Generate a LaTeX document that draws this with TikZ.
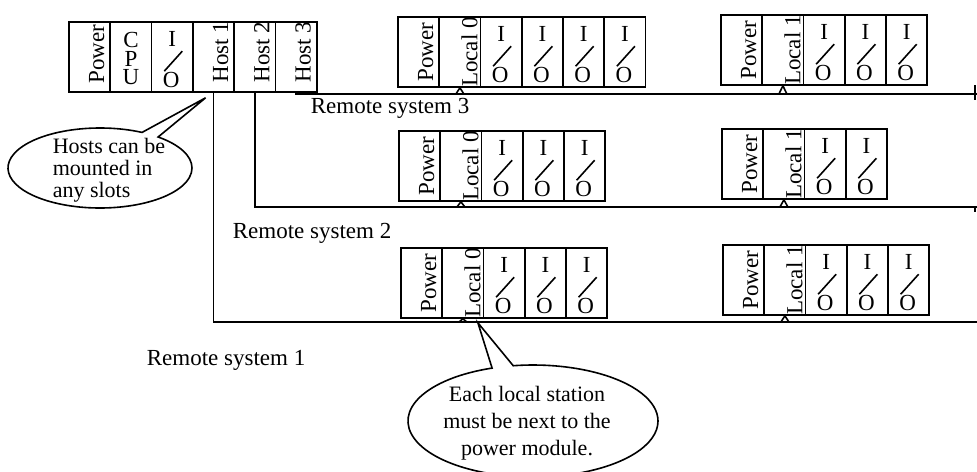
\documentclass[tikz,border=0pt]{standalone}
\usepackage{fontspec}
\setmainfont{Liberation Serif}
\usetikzlibrary{shapes.callouts}

% I/O marking inside a slot node
\newcommand\iomark[1]{%
  \node[anchor=base] (#1-i) at ([yshift=-12.5pt]#1.north) {I};
  \node[anchor=base] (#1-o) at ([xshift=-0.5pt,yshift=2.5pt]#1.south) {O};
  \draw ([xshift=-4pt,yshift=-25pt]#1.north) -- ([xshift=5pt,yshift=-15pt]#1.north);}

\begin{document}
\begin{tikzpicture}[x=0.5pt,y=-0.5pt,line width=0.8pt,
  font=\fontsize{11.5}{13}\selectfont,
  slot/.style={draw,inner sep=0pt,minimum width=20.625pt,minimum height=35pt},
  vtext/.style={rotate=90,anchor=base},
  note/.style={draw,ellipse callout,fill=white,inner sep=0pt}]
\useasboundingbox (0,0) rectangle (977,471);
\clip (0,0) rectangle (977,471);
% host system
\foreach \n [count=\i from 0] in {pw,cpu,io,h1,h2,h3}
  \node[slot] (\n) at (89.6+41.33*\i,57) {};
\node[vtext] (pw-t) at ([xshift=-3.5pt,yshift=1.5pt]pw.east) {Power};
\node[anchor=north,align=center,inner sep=0pt,font=\fontsize{11.5}{9.25}\selectfont]
  (cpu-t) at ([yshift=-5.2pt]cpu.north) {C\\P\\U};
\iomark{io}
\foreach \i in {1,2,3}
  \node[vtext] (h\i-t) at ([xshift=-3.5pt,yshift=2.5pt]h\i.east) {Host \i};
% local stations
\foreach \r/\x/\t/\n/\k in {r3a/398/17/4/0,r3b/721/15/3/1,r2a/399/131/3/0,
    r2b/722/129/2/1,r1a/401/248/3/0,r1b/723/245/3/1}{
  \node[slot] (\r-pw) at (\x+20.6,\t+35) {};
  \node[vtext] (\r-pwt) at ([xshift=-3.5pt]\r-pw.east) {Power};
  \node[slot] (\r-loc) at (\x+61.9,\t+35) {};
  \node[vtext] (\r-loct) at ([xshift=-2pt]\r-loc.east) {Local \k};
  \foreach \i in {1,...,\n}{
    \node[slot] (\r-io\i) at (\x+61.9+41.25*\i,\t+35) {};
    \iomark{\r-io\i}
  }
}
% remote links
\coordinate (e3) at (977,94);
\coordinate (e2) at (977,207);
\coordinate (e1) at (977,322);
\draw (h3.south) |- (e3);
\draw (h2.south) |- (e2);
\draw (h1.south) |- (e1);
\draw ([xshift=-1pt,yshift=4.5pt]e3) -- ([xshift=-1pt,yshift=-3pt]e3);
\draw ([xshift=-1pt]e2) -- ([xshift=-1pt,yshift=-2.5pt]e2);
\foreach \r/\e in {r3a/e3,r3b/e3,r2a/e2,r2b/e2,r1a/e1,r1b/e1}
  \draw ([xshift=-2pt]\r-loc.south |- \e) -- (\r-loc.south) -- ([xshift=2pt]\r-loc.south |- \e);
\node[anchor=base west,inner sep=0pt] (rs3) at (310,113) {Remote system 3};
\node[anchor=base west,inner sep=0pt] (rs2) at (232,238) {Remote system 2};
\node[anchor=base west,inner sep=0pt] (rs1) at (146,365) {Remote system 1};
% notes
\node[note,minimum width=92pt,minimum height=40pt,callout pointer arc=12,
  callout absolute pointer={([xshift=-4pt,yshift=-2.5pt]h1.south)}] (hnote) at (100,168) {};
\node[align=left,inner sep=0pt,anchor=north west,font=\fontsize{11}{11}\selectfont]
  (hnote-t) at (52,137) {Hosts can be\\mounted in\\any slots};
\node[note,minimum width=125pt,minimum height=56pt,callout pointer arc=10,
  callout absolute pointer={([xshift=7.5pt,yshift=-2pt]r1a-loc.south)}] (lnote) at (533,421) {};
\node[align=center,inner sep=0pt,anchor=north,font=\fontsize{11}{13.7}\selectfont]
  (lnote-t) at (527,385) {Each local station\\must be next to the\\power module.};
\end{tikzpicture}
\end{document}
